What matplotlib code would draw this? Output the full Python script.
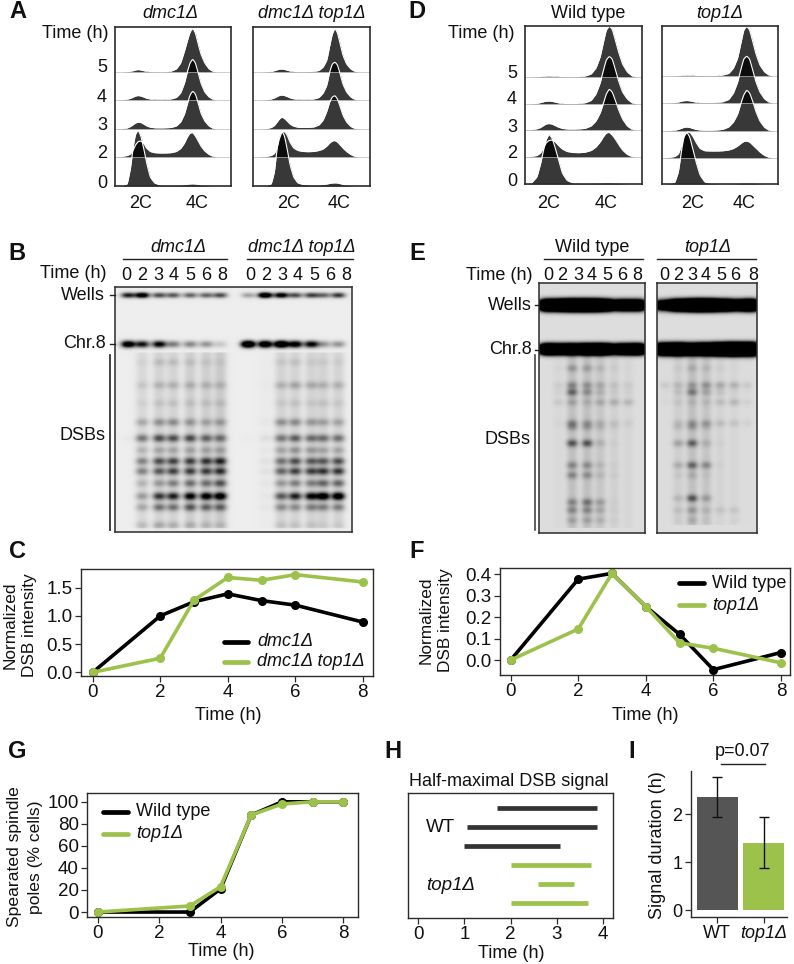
#!/usr/bin/env python3
"""Meiotic DSB figure: FACS ridgelines, gels and time course panels."""

import matplotlib
matplotlib.use('Agg')
import matplotlib.pyplot as plt
from matplotlib.lines import Line2D
import numpy as np

plt.rcParams['font.family'] = ['Liberation Sans', 'DejaVu Sans']

W, H = 794, 964
BLACK = '#000000'
GREEN = '#9dc24b'
EDGE = '#2b2b2b'
FS = 13

# ============================================
# DATA
# ============================================

trace_times = ['0', '2', '3', '4', '5']
# sampling of the FACS curves: 0 = 2C peak, 1 = 4C peak
trace_u = [-.45, -.3, -.2, -.14, -.09, -.05, 0, .05, .1, .15, .22, .3, .4, .5,
           .6, .7, .78, .85, .9, .95, 1, 1.05, 1.1, 1.15, 1.22, 1.3, 1.38, 1.45]

a1_traces = [
    [0, .2, 2, 18, 40, 52, 56, 50, 38, 24, 9, 3, 1, .5, .5, .7, 1, 1.3, 1.8, 2, 2.2, 2, 1.5, 1, .6, .2, 0, 0],
    [0, .5, 1.5, 3, 7, 12, 15.5, 16, 14, 9, 5.5, 4.3, 4, 4, 4.3, 5.5, 8.5, 14, 20, 24, 24.5, 21, 16, 11, 6, 2.5, .5, 0],
    [0, .3, 1, 2.5, 4.5, 6, 7, 6.5, 5, 3.2, 1.8, 1.2, 1.1, 1.2, 1.5, 3, 7, 15, 25, 34, 38, 35, 26, 16, 8, 3, .4, 0],
    [0, .2, .8, 1.7, 3, 4, 4.5, 4, 3, 1.8, 1, .7, .6, .7, 1, 2.5, 7, 17, 28, 37, 41, 37, 27, 17, 8, 3, .4, 0],
    [0, 0, .3, .8, 1.3, 2, 2.5, 2, 1.3, .8, .3, .2, .2, .3, .8, 3, 9, 21, 31, 40, 44, 39, 28, 18, 9, 3, .3, 0],
]
a2_traces = [
    [0, .2, 2, 14, 38, 51, 55, 50, 37, 22, 9, 3, 1.5, 1, .8, 1, 1.5, 2, 2.6, 3, 3.2, 3, 2.4, 1.6, .8, .3, 0, 0],
    [0, .5, 1.5, 3.5, 9, 18, 25, 25.5, 22, 15, 9, 6.5, 5.5, 5.3, 5.5, 6.5, 8, 11, 14, 16, 16.5, 15, 12, 9, 5.5, 2.5, .5, 0],
    [0, .3, 1.5, 3.5, 7, 10, 12, 10.5, 8, 5, 2.8, 1.8, 1.5, 1.6, 2, 4, 9, 18, 27, 32, 33.5, 30, 22, 14, 7, 2.5, .4, 0],
    [0, .2, 1, 2, 3.5, 4.5, 5, 4.5, 3.5, 2.2, 1.2, .7, .6, .7, 1, 2.5, 7, 15, 28, 36, 38, 35, 26, 16, 8, 3, .4, 0],
    [0, .2, .6, 1.3, 2.2, 2.8, 3, 2.6, 1.8, 1.1, .5, .3, .3, .4, .6, 1.5, 5, 12, 26, 38, 44, 39, 28, 17, 8, 3, .5, 0],
]
d1_traces = [
    [0, .5, 7, 20, 34, 44, 50, 46, 37, 26, 11, 3.5, 1, .5, .4, .5, .7, .9, 1.1, 1.2, 1.2, 1.1, .9, .6, .3, .1, 0, 0],
    [0, .5, 1.5, 4, 9, 14, 16.5, 17, 15.5, 12, 8, 5.5, 4.5, 4.3, 4.8, 6.5, 10, 15, 20, 24, 24.7, 22, 18, 13, 7, 2.5, .4, 0],
    [0, .3, 1.2, 2.5, 4.5, 6, 6.5, 6, 4.5, 3, 1.6, 1, .9, 1.1, 1.6, 4, 9, 17, 26, 36, 41, 38, 30, 21, 11, 4, .6, 0],
    [0, .1, .6, 1.4, 2.3, 2.8, 3, 2.7, 2, 1.2, .6, .4, .4, .6, 1.2, 3.5, 10, 21, 33, 44, 47.7, 45, 35, 24, 12, 5, 1, 0],
    [0, .1, .3, .5, .8, 1, 1.1, 1, .8, .6, .4, .3, .3, .5, 1, 3, 9, 20, 34, 47, 51, 48, 37, 26, 13, 5, 1, 0],
]
d2_traces = [
    [0, .2, 1.5, 12, 33, 47, 52, 47, 35, 23, 9, 2, .5, .2, .1, .1, .2, .4, .7, 1, 1.1, 1, .7, .4, .2, 0, 0, 0],
    [0, .5, 1.5, 4, 12, 22, 26, 26, 22, 16, 9.5, 7.2, 7, 7, 7.2, 8, 9.5, 12, 14.5, 16.5, 17, 16, 13, 10, 6, 2.5, .5, 0],
    [0, .2, .8, 1.6, 2.8, 3.7, 4, 3.6, 2.5, 1.6, 1, .8, .8, 1, 1.6, 4, 9, 17, 27, 36, 41, 38, 30, 20, 10, 3.5, .5, 0],
    [0, .1, .5, 1, 1.8, 2.3, 2.5, 2.2, 1.5, .9, .5, .4, .4, .6, 1.2, 3.5, 10, 21, 33, 44, 47, 44, 33, 22, 11, 4, .6, 0],
    [0, .1, .2, .4, .6, .8, 1, .9, .7, .5, .4, .4, .4, .5, 1, 2.5, 8, 18, 32, 46, 50, 46, 35, 23, 11, 4, .6, 0],
]

lane_times = ['0', '2', '3', '4', '5', '6', '8']

# gel B: band strength, rows top to bottom, lanes left to right
b_wells_chr8 = [
    [.85, 1.2, .65, .6, .55, .55, .65, .3, 1.4, 1.1, .65, .7, .55, .75],
    [1.2, .9, 1.0, .45, .4, .35, .14, 1.6, 1.4, 1.6, 1.15, 1.0, .35, .35],
]
b_dsb = [
    [0, .03, .1, .1, .08, .06, .04, 0, 0, .06, .08, .05, .05, .04],
    [0, .08, .14, .15, .15, .14, .12, 0, .01, .15, .2, .18, .15, .15],
    [0, .04, .08, .08, .08, .08, .08, 0, 0, .06, .08, .06, .08, .06],
    [0, .2, .28, .3, .25, .2, .22, 0, .02, .28, .3, .25, .22, .2],
    [.02, .4, .55, .55, .55, .45, .4, .01, .05, .38, .48, .42, .42, .4],
    [0, .15, .2, .2, .2, .2, .2, 0, .02, .2, .28, .25, .2, .2],
    [0, .35, .55, .6, .6, .65, .7, 0, .04, .4, .55, .5, .5, .55],
    [0, .35, .5, .6, .6, .6, .65, 0, .04, .45, .6, .6, .65, .65],
    [0, .15, .25, .35, .4, .4, .5, 0, .02, .25, .35, .35, .45, .45],
    [0, .25, .65, .75, .9, .95, 1.0, 0, .02, .5, .75, .9, 1.1, 1.1],
    [0, .2, .4, .4, .5, .45, .45, 0, .02, .3, .3, .35, .35, .35],
    [0, .12, .18, .15, .15, .12, .1, 0, 0, .08, .08, .08, .05, .05],
]
b_smear = [0, .08, .1, .1, .12, .12, .14, 0, .01, .1, .1, .1, .1, .1]

# gel E: saturated wells and Chr.8, faint DSB ladders
e1_wells_chr8 = [
    [4, 4.5, 5, 5, 4, 3, 3],
    [4, 3.5, 3.5, 4, 4, 3.5, 4],
]
e1_dsb = [
    [.02, .18, .15, .08, .03, .01],
    [.05, .25, .2, .14, .07, .05],
    [.03, .38, .22, .1, .04, .03],
    [.07, .14, .1, .14, .15, .13],
    [.02, .25, .18, .1, .07, .05],
    [0, .18, .14, .07, .03, 0],
    [0, .45, .45, .1, .02, 0],
    [0, .25, .22, .08, .02, 0],
    [0, .25, .22, .08, .03, 0],
    [0, .25, .33, .18, .02, 0],
    [0, .25, .25, .14, .02, 0],
    [0, .14, .14, .1, .02, 0],
]
e1_smear = [.02, .12, .12, .09, .05, .03]
e2_wells_chr8 = [
    [2, 4, 5, 5, 4, 3, 4],
    [4, 4.5, 3.5, 4, 5, 6, 6],
]
e2_dsb = [
    [0, .03, .1, .07, .03, .01, 0],
    [.07, .1, .18, .22, .18, .15, .07],
    [.01, .07, .3, .14, .07, .03, .01],
    [.02, .05, .07, .07, .1, .13, .04],
    [0, .08, .18, .18, .1, .08, .04],
    [0, .07, .14, .07, 0, 0, 0],
    [0, .18, .4, .1, .02, 0, 0],
    [0, .14, .38, .25, .02, 0, 0],
    [0, .04, .1, .03, 0, 0, 0],
    [0, .1, .45, .18, 0, 0, 0],
    [0, .07, .18, .08, .07, .07, 0],
    [0, .02, .1, .02, 0, .02, 0],
]
e2_smear = [.01, .06, .12, .1, .04, .03, .01]

c_time = [0, 2, 3, 4, 5, 6, 8]
c_dmc1 = [0, 1.0, 1.25, 1.39, 1.27, 1.19, .89]
c_dmc1_top1 = [0, .25, 1.28, 1.68, 1.63, 1.73, 1.6]

f_time = [0, 2, 3, 4, 5, 6, 8]
f_wt = [0, .378, .405, .25, .12, -.045, .035]
f_top1 = [0, .145, .405, .25, .08, .055, -.013]

g_time = [0, 3, 4, 5, 6, 7, 8]
g_wt = [0, 0, 21, 88, 100, 100, 100]
g_top1 = [0, 5.5, 23, 88, 98, 100, 100]

h_starts = [1.7, 1.05, 1.0, 2.0, 2.6, 2.0]
h_ends = [3.87, 3.87, 3.07, 3.75, 3.37, 3.67]

i_labels = ['WT', 'top1Δ']
i_values = [2.36, 1.4]
i_low = [1.95, .87]
i_high = [2.77, 1.95]

# ============================================
# HELPERS
# ============================================

fig = plt.figure(figsize=(W / 100, H / 100), dpi=100, facecolor='white')


def px_axes(x0, y0, x1, y1):
    return fig.add_axes([x0 / W, 1 - y1 / H, (x1 - x0) / W, (y1 - y0) / H])


def label(x, y, s, ha='center', va='center', size=FS, **kw):
    fig.text(x / W, 1 - y / H, s, ha=ha, va=va, fontsize=size, color='#111111', **kw)


def px_line(x, y, lw=1.0, color='#222222', **kw):
    fig.add_artist(Line2D([v / W for v in x], [1 - v / H for v in y],
                          lw=lw, color=color, **kw))


def style_box(ax, lw=1.2):
    for s in ax.spines.values():
        s.set_linewidth(lw)
        s.set_color(EDGE)


def ridge_panel(box, traces, offsets, p2c, p4c):
    ax = px_axes(*box)
    fine = np.linspace(0, 1, 400)
    u = np.array(trace_u)
    xs = p2c + u * (p4c - p2c)
    kernel = np.array([1, 2, 3, 3, 3, 2, 1]) / 15
    for values, base in reversed(list(zip(traces, offsets))):
        y = np.interp(fine, xs, values)
        y = np.convolve(y, kernel, mode='same')
        ax.fill_between(fine, base, base + y, color='k', alpha=.78, lw=0)
        ax.plot(fine, np.where(y > .8, base + y, np.nan), color='white', lw=.8)
        if base > 0:
            ax.plot([0, 1], [base, base], color='#bbbbbb', lw=.5)
    ax.set_xlim(0, 1)
    ax.set_ylim(0, box[3] - box[1])
    ax.set_xticks([])
    ax.set_yticks([])
    style_box(ax)


def lane_profile(xx, lanes, half):
    return np.exp(-np.abs((xx[None, :] - np.array(lanes)[:, None]) / half) ** 2.4)


def gel_panel(box, layers):
    x0, y0, x1, y1 = box
    xx = np.arange(x0, x1, .5)
    yy = np.arange(y0, y1, .5)
    img = np.zeros((len(yy), len(xx)))
    for lanes, rows, sigma, amps, half in layers:
        amps = np.array(amps)
        px = lane_profile(xx, lanes, half)
        py = np.exp(-(yy[None, :] - np.array(rows)[:, None]) ** 2 / (2 * np.array(sigma)[:, None] ** 2))
        img += py.T @ amps @ px
    return xx, yy, img


def finish_gel(box, img, bg):
    ax = px_axes(*box)
    x0, y0, x1, y1 = box
    ax.imshow(np.clip(bg - img, 0, 1), cmap='gray', vmin=0, vmax=1, aspect='auto',
              extent=(x0, x1, y1, y0), interpolation='bilinear')
    ax.set_xlim(x0, x1)
    ax.set_ylim(y1, y0)
    ax.set_xticks([])
    ax.set_yticks([])
    style_box(ax, 1.1)


def add_smear(img, xx, yy, lanes, smear, top, bottom, half):
    px = lane_profile(xx, lanes, half)
    mask = ((yy > top) & (yy < bottom)).astype(float)
    img += np.outer(mask, np.array(smear) @ px)


def series(ax, x, y, color, lw=2.6, ms=5.5):
    ax.plot(x, y, color=color, lw=lw, marker='o', ms=ms, mec=color, solid_joinstyle='round')


def style_line_axes(ax):
    style_box(ax, 1.0)
    ax.tick_params(length=4, width=.9, labelsize=13.5, pad=2, color=EDGE, labelcolor='#111111')


# ============================================
# A / D: FACS
# ============================================

offs_a = [0, 29, 57, 86, 114]
ridge_panel((115, 27, 231, 186), a1_traces, offs_a, .20, .67)
ridge_panel((253, 27, 370, 186), a2_traces, offs_a, .247, .70)
ridge_panel((525, 26, 642, 184), d1_traces, [0, 27, 54, 80, 107], .205, .72)
ridge_panel((662, 26, 778, 184), d2_traces, [0, 26, 53, 81, 108], .214, .73)

for t, yv in zip(trace_times, [183, 154, 125, 97, 68]):
    label(107, yv, t, ha='right')
for t, yv in zip(trace_times, [181, 153, 127, 99, 73]):
    label(517, yv, t, ha='right')
label(108, 33, 'Time (h)', ha='right')
label(514, 33, 'Time (h)', ha='right')
label(170, 14, 'dmc1Δ', style='italic')
label(312, 14, 'dmc1Δ top1Δ', style='italic')
label(588, 14, 'Wild type')
label(720, 14, 'top1Δ', style='italic')
for xv, s in zip([141, 197, 289, 339, 549, 606, 693, 744], ['2C', '4C'] * 4):
    label(xv, 203, s)

# ============================================
# B: gel
# ============================================

b_box = (115, 287, 352, 532)
b_lanes = [128, 142, 159, 173, 190, 206, 220, 248, 265, 281, 295, 311, 323, 338]
b_rows = [362, 385, 403, 422, 438, 450, 461, 471, 483, 496, 507, 525]
xx, yy, img = gel_panel(b_box, [
    (b_lanes, [295, 344], [1.9, 2.4], b_wells_chr8, 7),
    (b_lanes, b_rows, [2.7] * 12, b_dsb, 6.5),
])
add_smear(img, xx, yy, b_lanes, b_smear, 352, 528, 6.5)
finish_gel(b_box, img, .93)

label(178, 248, 'dmc1Δ', style='italic')
label(302, 248, 'dmc1Δ top1Δ', style='italic')
px_line([123, 227], [259, 259])
px_line([247, 353], [259, 259])
label(107, 273, 'Time (h)', ha='right')
for xv, s in zip([126, 142, 158, 174, 190, 206, 222, 250, 266, 282, 298, 314, 330, 346], lane_times * 2):
    label(xv, 275, s)
label(105, 295, 'Wells', ha='right')
label(106, 343, 'Chr.8', ha='right')
label(106, 436, 'DSBs', ha='right')
px_line([110, 115], [295, 295])
px_line([110, 115], [344, 344])
px_line([110, 110], [355, 530], lw=1.3, color='#333333')

# ============================================
# E: gels
# ============================================

e1_box = (539, 283, 645, 533)
e2_box = (657, 283, 757, 533)
e_rows = [368, 385, 392, 402, 423, 427, 443, 465, 475, 502, 510, 520]
e2_rows = [368, 385, 392, 402, 423, 427, 443, 465, 475, 498, 510, 520]
e1_top = [548, 563, 577, 591, 605, 622, 637]
e1_lanes = [558, 572, 587, 600, 614, 628]
e2_top = [663, 678, 693, 707, 721, 735, 750]
e2_lanes = [665, 678, 692, 706, 720, 734, 747]

xx, yy, img = gel_panel(e1_box, [
    (e1_top, [305, 349], [3.5, 3.3], e1_wells_chr8, 9),
    (e1_lanes, e_rows, [2.6] * 12, e1_dsb, 5.5),
])
add_smear(img, xx, yy, e1_lanes, e1_smear, 355, 528, 5.5)
finish_gel(e1_box, img, .87)

xx, yy, img = gel_panel(e2_box, [
    (e2_top, [305, 349], [3.5, 3.6], e2_wells_chr8, 9),
    (e2_lanes, e2_rows, [2.6] * 12, e2_dsb, 5.5),
])
add_smear(img, xx, yy, e2_lanes, e2_smear, 355, 525, 5.5)
finish_gel(e2_box, img, .87)

label(592, 248, 'Wild type')
label(708, 248, 'top1Δ', style='italic')
px_line([544, 643], [259, 259])
px_line([657, 756], [259, 259])
label(532, 275, 'Time (h)', ha='right')
for xv, s in zip([548, 562, 578, 592, 607, 622, 637, 664, 678, 692, 706, 721, 735, 753], lane_times * 2):
    label(xv, 275, s)
label(532, 305, 'Wells', ha='right')
label(532, 350, 'Chr.8', ha='right')
label(530, 440, 'DSBs', ha='right')
px_line([535, 539], [305, 305])
px_line([535, 539], [350, 350])
px_line([535, 535], [355, 530], lw=1.1, color='#333333')

# ============================================
# C / F / G: time courses
# ============================================

ax = px_axes(81, 569, 373, 676)
series(ax, c_time, c_dmc1, BLACK)
series(ax, c_time, c_dmc1_top1, GREEN)
ax.set_xlim(-.347, 8.3)
ax.set_ylim(-.065, 1.83)
ax.set_xticks([0, 2, 4, 6, 8])
ax.set_yticks([0, .5, 1, 1.5], ['0.0', '0.5', '1.0', '1.5'])
style_line_axes(ax)
label(20, 625, 'Normalized\nDSB intensity', rotation=90, linespacing=1.4, size=12.4)
label(228, 715, 'Time (h)')

ax = px_axes(500, 568, 790, 675)
series(ax, f_time, f_wt, BLACK)
series(ax, f_time, f_top1, GREEN)
ax.set_xlim(-.317, 8.27)
ax.set_ylim(-.07, .43)
ax.set_xticks([0, 2, 4, 6, 8])
ax.set_yticks([0, .1, .2, .3, .4], ['0.0', '0.1', '0.2', '0.3', '0.4'])
style_line_axes(ax)
label(436, 620, 'Normalized\nDSB intensity', rotation=90, linespacing=1.4, size=12.4)
label(645, 715, 'Time (h)')

ax = px_axes(87, 793, 358, 917)
series(ax, g_time, g_wt, BLACK)
series(ax, g_time, g_top1, GREEN)
ax.set_xlim(-.35, 8.48)
ax.set_ylim(-4.5, 108)
ax.set_xticks([0, 2, 4, 6, 8])
ax.set_yticks([0, 20, 40, 60, 80, 100])
style_line_axes(ax)
label(25, 857, 'Spearated spindle\npoles (% cells)', rotation=90, linespacing=1.5, size=12.6)
label(221, 952, 'Time (h)')

# legends
for x0, x1, y0, y1, tx, a, b, st in [
    (224, 248, 642, 662, 257, 'dmc1Δ', 'dmc1Δ top1Δ', 'italic'),
    (679, 704, 583, 605, 712, 'Wild type', 'top1Δ', 'normal'),
    (103, 128, 812, 834, 136, 'Wild type', 'top1Δ', 'normal'),
]:
    px_line([x0, x1], [y0, y0], lw=3.4, color=BLACK, solid_capstyle='round')
    px_line([x0, x1], [y1, y1], lw=3.4, color=GREEN, solid_capstyle='round')
    label(tx, y0, a, ha='left', style=st)
    label(tx, y1, b, ha='left', style='italic')

# ============================================
# H: half-maximal intervals
# ============================================

ax = px_axes(408, 793, 613, 918)
bar_colors = ['#333333'] * 3 + [GREEN] * 3
rows = np.arange(6)
ax.hlines(rows, h_starts, h_ends, colors=bar_colors, lw=3.4)
ax.set_xlim(-.22, 4.22)
ax.set_ylim(5.8, -.8)
ax.set_xticks([0, 1, 2, 3, 4])
ax.set_yticks([])
style_line_axes(ax)
label(509, 781, 'Half-maximal DSB signal')
label(426, 827, 'WT', ha='left', size=13.5)
label(426, 885, 'top1Δ', ha='left', style='italic', size=13.5)
label(511, 953, 'Time (h)')

# ============================================
# I: duration bars
# ============================================

ax = px_axes(690.7, 771, 786.7, 917)
pos = np.arange(2)
vals = np.array(i_values)
yerr = [vals - np.array(i_low), np.array(i_high) - vals]
ax.bar(pos, vals, width=.88, color=['#555555', GREEN])
ax.errorbar(pos, vals, yerr=yerr, fmt='none', ecolor='#111111', elinewidth=1, capsize=3.5, capthick=1)
ax.set_xlim(-.57, 1.5)
ax.set_ylim(-.146, 2.9)
ax.set_xticks(pos, i_labels)
ax.get_xticklabels()[1].set_style('italic')
ax.set_yticks([0, 1, 2])
ax.spines['top'].set_visible(False)
ax.spines['right'].set_visible(False)
for s in ['left', 'bottom']:
    ax.spines[s].set_linewidth(1.0)
    ax.spines[s].set_color(EDGE)
ax.tick_params(length=4, width=.9, labelsize=13, pad=2, color=EDGE, labelcolor='#111111')
label(657, 845, 'Signal duration (h)', rotation=90)
label(743, 751, 'p=0.07')
px_line([721, 765], [764, 764], lw=1)

# ============================================
# PANEL LETTERS
# ============================================

for s, xv, yv in [('A', 18, 12), ('D', 417, 12), ('B', 17, 253), ('E', 417, 253), ('C', 17, 552),
                  ('F', 417, 552), ('G', 17, 751), ('H', 393, 751), ('I', 632, 751)]:
    label(xv, yv, s, size=17, fontweight='bold')

fig.savefig('out.png', dpi=100, facecolor='white')
